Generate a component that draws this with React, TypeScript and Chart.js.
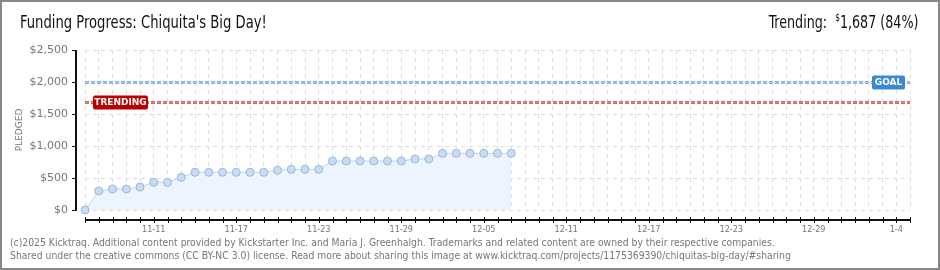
import React, { useEffect, useRef } from 'react';
import { Chart, registerables } from 'chart.js';

Chart.register(...registerables);

const DATES: string[] = [
  '11-06', '11-07', '11-08', '11-09', '11-10', '11-11', '11-12', '11-13', '11-14', '11-15',
  '11-16', '11-17', '11-18', '11-19', '11-20', '11-21', '11-22', '11-23', '11-24', '11-25',
  '11-26', '11-27', '11-28', '11-29', '11-30', '12-01', '12-02', '12-03', '12-04', '12-05',
  '12-06', '12-07', '12-08', '12-09', '12-10', '12-11', '12-12', '12-13', '12-14', '12-15',
  '12-16', '12-17', '12-18', '12-19', '12-20', '12-21', '12-22', '12-23', '12-24', '12-25',
  '12-26', '12-27', '12-28', '12-29', '12-30', '12-31', '1-1', '1-2', '1-3', '1-4', '1-5',
];

const SHOWN_TICKS: string[] = ['11-11', '11-17', '11-23', '11-29', '12-05', '12-11', '12-17', '12-23', '12-29', '1-4'];

const PLEDGED: number[] = [
  0, 297, 328, 328, 359, 432, 432, 510, 589, 589,
  589, 589, 589, 589, 620, 635, 635, 635, 765, 765,
  765, 765, 765, 765, 797, 797, 885, 885, 885, 885,
  885, 885,
];

const GOAL = 2000;
const TRENDING = 1687;
const Y_MAX = 2500;
const Y_STEP = 250;

const FONT = "'DejaVu Sans', Verdana, sans-serif";
const COND = "'DejaVu Sans Condensed', 'DejaVu Sans', sans-serif";

function badge(ctx: CanvasRenderingContext2D, x: number, y: number, w: number, h: number, fill: string, text: string) {
  ctx.fillStyle = fill;
  ctx.beginPath();
  const r = 2;
  ctx.moveTo(x + r, y);
  ctx.lineTo(x + w - r, y);
  ctx.quadraticCurveTo(x + w, y, x + w, y + r);
  ctx.lineTo(x + w, y + h - r);
  ctx.quadraticCurveTo(x + w, y + h, x + w - r, y + h);
  ctx.lineTo(x + r, y + h);
  ctx.quadraticCurveTo(x, y + h, x, y + h - r);
  ctx.lineTo(x, y + r);
  ctx.quadraticCurveTo(x, y, x + r, y);
  ctx.fill();
  ctx.fillStyle = '#fff';
  ctx.font = `bold 9px ${FONT}`;
  ctx.textAlign = 'center';
  ctx.textBaseline = 'middle';
  ctx.fillText(text, x + w / 2, y + h / 2 + 0.5);
}

const ktPlugin = {
  id: 'ktAxes',
  afterDraw(chart: any) {
    const { ctx, chartArea: ca, scales } = chart;
    const x = scales.x;
    const y = scales.y;
    ctx.save();

    const hline = (v: number, color: string, inner: string) => {
      const py = Math.round(y.getPixelForValue(v)) + 0.5;
      ctx.setLineDash([4, 2]);
      ctx.strokeStyle = color;
      ctx.lineWidth = 3;
      ctx.beginPath();
      ctx.moveTo(ca.left, py);
      ctx.lineTo(ca.right, py);
      ctx.stroke();
      ctx.strokeStyle = inner;
      ctx.lineWidth = 1;
      ctx.beginPath();
      ctx.moveTo(ca.left, py);
      ctx.lineTo(ca.right, py);
      ctx.stroke();
      ctx.setLineDash([]);
      return py;
    };
    const gy = hline(GOAL, '#85b0e2', '#a9c8ee');
    const ty = hline(TRENDING, '#cc6262', '#e09090');

    // y axis
    const ax = Math.round(ca.left) - 9;
    ctx.strokeStyle = '#111';
    ctx.lineWidth = 2;
    ctx.beginPath();
    ctx.moveTo(ax, ca.top);
    ctx.lineTo(ax, ca.bottom + 1);
    ctx.stroke();
    ctx.lineWidth = 1;
    y.ticks.forEach((t: any) => {
      const py = Math.round(y.getPixelForValue(t.value)) + 0.5;
      ctx.strokeStyle = t.value % 500 === 0 ? '#111' : '#e00000';
      ctx.beginPath();
      ctx.moveTo(ax - 4, py);
      ctx.lineTo(ax, py);
      ctx.stroke();
    });

    // x axis
    const ay = Math.round(ca.bottom) + 10;
    ctx.strokeStyle = '#111';
    ctx.lineWidth = 2;
    ctx.beginPath();
    ctx.moveTo(ca.left, ay);
    ctx.lineTo(ca.right + 1, ay);
    ctx.stroke();
    ctx.lineWidth = 1;
    x.ticks.forEach((_t: any, i: number) => {
      const px = Math.round(x.getPixelForTick(i)) + 0.5;
      ctx.beginPath();
      ctx.moveTo(px, ay - 3);
      ctx.lineTo(px, ay + 3);
      ctx.stroke();
    });

    badge(ctx, ca.right - 38, gy - 7, 33, 14, '#3b87d8', 'GOAL');
    badge(ctx, ca.left + 8, ty - 7, 55, 14, '#bb0000', 'TRENDING');
    ctx.restore();
  },
};

export default function App() {
  const ref = useRef<HTMLCanvasElement | null>(null);

  useEffect(() => {
    if (!ref.current) return;
    const chart = new Chart(ref.current, {
      type: 'line',
      data: {
        labels: DATES,
        datasets: [
          {
            data: PLEDGED,
            borderColor: '#bcd6f2',
            borderWidth: 1,
            backgroundColor: '#ecf4fd',
            fill: 'origin',
            tension: 0,
            clip: false,
            pointRadius: 4,
            pointBackgroundColor: '#c6ddf7',
            pointBorderColor: '#9fb6d2',
            pointBorderWidth: 1,
          },
        ],
      },
      options: {
        animation: false,
        responsive: false,
        events: [],
        layout: { padding: { top: 50, right: 30, left: 0, bottom: 0 } },
        plugins: {
          legend: { display: false },
          tooltip: { enabled: false },
          title: { display: false },
        },
        scales: {
          x: {
            type: 'category',
            offset: false,
            grid: { color: '#dedede', lineWidth: 1, drawTicks: false, tickLength: 0 },
            border: { display: false, dash: [4, 4] },
            ticks: {
              autoSkip: false,
              maxRotation: 0,
              padding: 14,
              color: '#777',
              font: { family: COND, size: 9 },
              callback: (_v: any, i: number) => (SHOWN_TICKS.includes(DATES[i]) ? DATES[i] : ''),
            },
            afterFit: (s: any) => {
              s.height = 60;
            },
          },
          y: {
            min: 0,
            max: Y_MAX,
            grid: { color: '#dedede', lineWidth: 1, drawTicks: false, tickLength: 0 },
            border: { display: false, dash: [4, 4] },
            ticks: {
              stepSize: Y_STEP,
              padding: 17,
              color: '#777',
              font: { family: FONT, size: 11 },
              callback: (v: any) => (Number(v) % 500 === 0 ? '$' + Number(v).toLocaleString('en-US') : ''),
            },
            title: {
              display: true,
              text: 'PLEDGED',
              color: '#777',
              font: { family: FONT, size: 9 },
              padding: { top: 14, bottom: 0 },
            },
            afterFit: (s: any) => {
              s.width = 85;
            },
          },
        },
      },
      plugins: [ktPlugin],
    });
    return () => chart.destroy();
  }, []);

  const headFont = "'Liberation Sans Narrow', 'DejaVu Sans Condensed', sans-serif";

  return (
    <div style={{ position: 'absolute', left: 0, top: 0, width: 940, height: 270, background: '#fff', overflow: 'hidden' }}>
      <canvas ref={ref} width={940} height={270} style={{ position: 'absolute', left: 0, top: 0, width: 940, height: 270 }} />
      <div
        style={{
          position: 'absolute',
          left: 20,
          top: 12,
          fontFamily: headFont,
          fontSize: 17,
          lineHeight: '20px',
          color: '#111',
          whiteSpace: 'nowrap',
          transform: 'scaleX(0.86)',
          transformOrigin: 'left center',
        }}
      >
        Funding Progress: Chiquita's Big Day!
      </div>
      <div
        style={{
          position: 'absolute',
          right: 22,
          top: 12,
          fontFamily: headFont,
          fontSize: 17,
          lineHeight: '20px',
          color: '#111',
          whiteSpace: 'nowrap',
          transform: 'scaleX(0.83)',
          transformOrigin: 'right center',
        }}
      >
        Trending:&nbsp;&nbsp;<span style={{ fontSize: 10, verticalAlign: 'top', lineHeight: '12px' }}>$</span>1,687 (84%)
      </div>
      <div
        style={{
          position: 'absolute',
          left: 10,
          top: 236,
          fontFamily: COND,
          fontSize: 10.3,
          lineHeight: '13px',
          color: '#777',
          whiteSpace: 'nowrap',
        }}
      >
        <div>(c)2025 Kicktraq. Additional content provided by Kickstarter Inc. and Maria J. Greenhalgh. Trademarks and related content are owned by their respective companies.</div>
        <div>Shared under the creative commons (CC BY-NC 3.0) license. Read more about sharing this image at www.kicktraq.com/projects/1175369390/chiquitas-big-day/#sharing</div>
      </div>
      <div
        style={{
          position: 'absolute',
          left: 0,
          top: 0,
          width: 940,
          height: 270,
          boxSizing: 'border-box',
          border: '2px solid #888',
          pointerEvents: 'none',
        }}
      />
    </div>
  );
}
